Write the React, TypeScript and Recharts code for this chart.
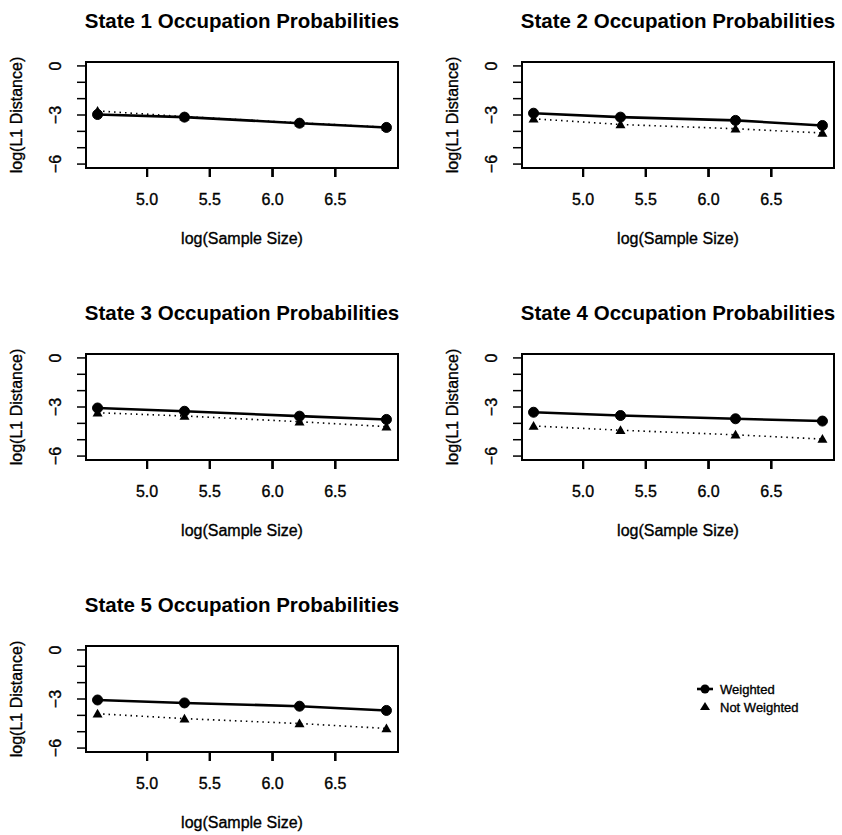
import { LineChart, Line, XAxis, YAxis, ReferenceArea, ReferenceLine } from "recharts";

// log of sample sizes 100, 200, 500, 1000
const logSampleSize = [4.605, 5.298, 6.215, 6.908];
const xTicks = [5.0, 5.5, 6.0, 6.5];
const yTicks = [0, -1, -2, -3, -4, -5, -6];
const yLabelled = [0, -3, -6];

const titles = [
  "State 1 Occupation Probabilities",
  "State 2 Occupation Probabilities",
  "State 3 Occupation Probabilities",
  "State 4 Occupation Probabilities",
  "State 5 Occupation Probabilities",
];

const weighted1 = [-2.97, -3.13, -3.5, -3.76];
const notWeighted1 = [-2.75, -3.1, -3.48, -3.75];
const weighted2 = [-2.89, -3.13, -3.33, -3.64];
const notWeighted2 = [-3.23, -3.58, -3.84, -4.1];
const weighted3 = [-3.06, -3.26, -3.56, -3.76];
const notWeighted3 = [-3.35, -3.55, -3.9, -4.2];
const weighted4 = [-3.32, -3.52, -3.72, -3.86];
const notWeighted4 = [-4.16, -4.42, -4.7, -4.96];
const weighted5 = [-3.06, -3.24, -3.44, -3.7];
const notWeighted5 = [-3.9, -4.2, -4.5, -4.8];

const seriesNames = ["Weighted", "Not Weighted"];
const xLabel = "log(Sample Size)";
const yLabel = "log(L1 Distance)";

const weightedAll = [weighted1, weighted2, weighted3, weighted4, weighted5];
const notWeightedAll = [notWeighted1, notWeighted2, notWeighted3, notWeighted4, notWeighted5];

const FONT = "'Liberation Sans', Arial, Helvetica, sans-serif";
const CELL_W = 406;
const CELL_H = 250;
const TICK = 9;
const PLOT_TOP = 62;
const PLOT_BOTTOM = 168;
const cellPos = [
  { left: 0, top: 0 },
  { left: 436, top: 0 },
  { left: 0, top: 292 },
  { left: 436, top: 292 },
  { left: 0, top: 584 },
];

// R-style 4% padding of the data range
const xMin = Math.min(...logSampleSize);
const xMax = Math.max(...logSampleSize);
const xPad = (xMax - xMin) * 0.04;
const xDomain = [xMin - xPad, xMax + xPad];
const yDomain = [-6.24, 0.24];
const tickLenY = (TICK * (yDomain[1] - yDomain[0])) / (PLOT_BOTTOM - PLOT_TOP);

// slight stroke so the text looks like the heavy scanned print
const inkText = { fill: "#000", stroke: "#000", strokeWidth: 0.35 };

const Circle = (props: any) => {
  const { cx, cy } = props;
  if (cx == null || cy == null) return null;
  return <circle cx={cx} cy={cy} r={5} fill="#000" stroke="#000" />;
};

const Triangle = (props: any) => {
  const { cx, cy } = props;
  if (cx == null || cy == null) return null;
  const s = 5;
  return (
    <polygon
      points={`${cx},${cy - s} ${cx - s},${cy + s * 0.75} ${cx + s},${cy + s * 0.75}`}
      fill="#000"
    />
  );
};

const YTick = (props: any) => {
  const { x, y, payload } = props;
  if (!yLabelled.includes(payload.value)) return null;
  const txt = payload.value < 0 ? `\u2212${Math.abs(payload.value)}` : `${payload.value}`;
  return (
    <text
      x={x}
      y={y}
      transform={`rotate(-90 ${x} ${y})`}
      textAnchor="middle"
      fontFamily={FONT}
      fontSize={16}
      {...inkText}
    >
      {txt}
    </text>
  );
};

const XTick = (props: any) => {
  const { x, payload } = props;
  return (
    <g>
      <rect x={x - 1} y={PLOT_BOTTOM} width={2} height={TICK} fill="#000" />
      <text x={x} y={205} textAnchor="middle" fontFamily={FONT} fontSize={16} {...inkText}>
        {Number(payload.value).toFixed(1)}
      </text>
    </g>
  );
};

const YLabel = (props: any) => {
  const vb = props.viewBox || {};
  const cx = 16;
  const cy = vb.y + vb.height / 2;
  return (
    <text
      x={cx}
      y={cy}
      transform={`rotate(-90 ${cx} ${cy})`}
      textAnchor="middle"
      dominantBaseline="central"
      fontFamily={FONT}
      fontSize={16}
      {...inkText}
    >
      {yLabel}
    </text>
  );
};

const XLabel = (props: any) => {
  const vb = props.viewBox || {};
  return (
    <text x={vb.x + vb.width / 2} y={244} textAnchor="middle" fontFamily={FONT} fontSize={16} {...inkText}>
      {xLabel}
    </text>
  );
};

const MARGIN = { top: PLOT_TOP, right: 8, bottom: 0, left: 0 };

const Panel = ({ index }: { index: number }) => {
  const data = logSampleSize.map((x, i) => ({
    x,
    w: weightedAll[index][i],
    nw: notWeightedAll[index][i],
  }));
  const pos = cellPos[index];
  return (
    <div style={{ position: "absolute", left: pos.left, top: pos.top, width: CELL_W, height: CELL_H }}>
      <div
        style={{
          position: "absolute",
          left: 66,
          top: 10,
          width: 352,
          textAlign: "center",
          fontFamily: FONT,
          fontWeight: "bold",
          fontSize: 20.5,
          lineHeight: "21px",
          whiteSpace: "nowrap",
          color: "#000",
        }}
      >
        {titles[index]}
      </div>
      <LineChart width={CELL_W} height={CELL_H} data={data} margin={MARGIN}>
        <XAxis
          type="number"
          dataKey="x"
          domain={xDomain}
          ticks={xTicks}
          interval={0}
          allowDataOverflow
          height={CELL_H - PLOT_BOTTOM}
          stroke="#000"
          axisLine={{ stroke: "#000", strokeWidth: 2 }}
          tickLine={{ stroke: "#000", strokeWidth: 2 }}
          tickSize={TICK}
          tick={<XTick />}
          label={<XLabel />}
        />
        <YAxis
          type="number"
          domain={yDomain}
          ticks={yTicks}
          interval={0}
          allowDataOverflow
          width={86}
          stroke="#000"
          axisLine={{ stroke: "#000", strokeWidth: 2 }}
          tickLine={{ stroke: "#000", strokeWidth: 1.5 }}
          tickSize={TICK}
          tickMargin={16}
          tick={<YTick />}
          label={<YLabel />}
        />
        {xTicks.map((t) => (
          <ReferenceLine
            key={t}
            segment={[
              { x: t, y: yDomain[0] },
              { x: t, y: yDomain[0] - tickLenY },
            ]}
            stroke="#000"
            strokeWidth={2}
            ifOverflow="visible"
          />
        ))}
        <ReferenceArea
          x1={xDomain[0]}
          x2={xDomain[1]}
          y1={yDomain[0]}
          y2={yDomain[1]}
          fill="none"
          fillOpacity={0}
          stroke="#000"
          strokeWidth={2}
          ifOverflow="visible"
        />
        <Line
          dataKey="nw"
          name={seriesNames[1]}
          stroke="#000"
          strokeWidth={1.6}
          strokeDasharray="1.5 4"
          dot={<Triangle />}
          activeDot={false}
          isAnimationActive={false}
        />
        <Line
          dataKey="w"
          name={seriesNames[0]}
          stroke="#000"
          strokeWidth={2.6}
          dot={<Circle />}
          activeDot={false}
          isAnimationActive={false}
        />
      </LineChart>
    </div>
  );
};

const LegendBox = () => (
  <svg width={160} height={50} style={{ position: "absolute", left: 690, top: 676 }}>
    <line x1={7} y1={13} x2={23} y2={13} stroke="#000" strokeWidth={2.6} />
    <circle cx={15} cy={13} r={4.5} fill="#000" />
    <text x={30} y={18} fontFamily={FONT} fontSize={13} {...inkText}>
      {seriesNames[0]}
    </text>
    <polygon points="15,26 10,34 20,34" fill="#000" />
    <text x={30} y={36} fontFamily={FONT} fontSize={13} {...inkText}>
      {seriesNames[1]}
    </text>
  </svg>
);

export default function App() {
  return (
    <div
      style={{
        position: "absolute",
        left: 0,
        top: 0,
        width: 842,
        height: 835,
        background: "#fff",
        overflow: "hidden",
      }}
    >
      {titles.map((_, i) => (
        <Panel key={i} index={i} />
      ))}
      <LegendBox />
    </div>
  );
}
